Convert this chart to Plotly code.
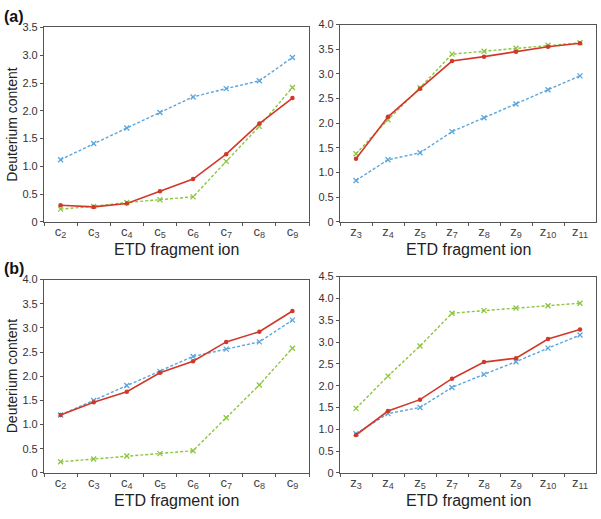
import plotly.graph_objects as go

c_ions = ["c<sub>2</sub>", "c<sub>3</sub>", "c<sub>4</sub>", "c<sub>5</sub>",
          "c<sub>6</sub>", "c<sub>7</sub>", "c<sub>8</sub>", "c<sub>9</sub>"]
z_ions = ["z<sub>3</sub>", "z<sub>4</sub>", "z<sub>5</sub>", "z<sub>7</sub>",
          "z<sub>8</sub>", "z<sub>9</sub>", "z<sub>10</sub>", "z<sub>11</sub>"]

# panel (a), c ions
a_c_red = [0.30, 0.27, 0.33, 0.55, 0.77, 1.22, 1.77, 2.23]
a_c_green = [0.23, 0.28, 0.35, 0.40, 0.45, 1.09, 1.72, 2.42]
a_c_blue = [1.12, 1.41, 1.69, 1.97, 2.25, 2.40, 2.54, 2.96]
# panel (a), z ions
a_z_red = [1.28, 2.13, 2.70, 3.26, 3.35, 3.45, 3.55, 3.62]
a_z_green = [1.38, 2.07, 2.72, 3.40, 3.46, 3.52, 3.58, 3.63]
a_z_blue = [0.84, 1.26, 1.40, 1.83, 2.11, 2.39, 2.68, 2.96]
# panel (b), c ions
b_c_red = [1.20, 1.46, 1.68, 2.07, 2.31, 2.71, 2.92, 3.35]
b_c_green = [0.23, 0.29, 0.35, 0.40, 0.46, 1.14, 1.82, 2.58]
b_c_blue = [1.20, 1.50, 1.81, 2.10, 2.41, 2.56, 2.71, 3.16]
# panel (b), z ions
b_z_red = [0.87, 1.42, 1.68, 2.16, 2.54, 2.63, 3.07, 3.29]
b_z_green = [1.48, 2.22, 2.91, 3.66, 3.72, 3.78, 3.83, 3.89]
b_z_blue = [0.90, 1.36, 1.50, 1.96, 2.26, 2.55, 2.86, 3.16]

y_max = [3.5, 4.0, 4.0, 4.5]

RED = "#d2382a"
GREEN = "#8cc63e"
BLUE = "#5aa5dc"
FONT = "Liberation Sans, Arial, sans-serif"

panels = [
    (c_ions, a_c_red, a_c_green, a_c_blue),
    (z_ions, a_z_red, a_z_green, a_z_blue),
    (c_ions, b_c_red, b_c_green, b_c_blue),
    (z_ions, b_z_red, b_z_green, b_z_blue),
]

W, H = 601, 519
# pixel boxes: (left, right, top, bottom)
boxes = [(44, 309, 22, 221), (340, 596, 19, 221),
         (44, 309, 280, 478), (340, 596, 277, 478)]

fig = go.Figure()
layout = dict(width=W, height=H, margin=dict(l=0, r=0, t=0, b=0),
              paper_bgcolor="white", plot_bgcolor="white", showlegend=False,
              font=dict(family=FONT, color="#333333"))

for i, (cats, red, green, blue) in enumerate(panels):
    n = i + 1
    xa = "x" if n == 1 else f"x{n}"
    ya = "y" if n == 1 else f"y{n}"
    for vals, color, dash, sym, wid, msz in [
        (green, GREEN, "3px,2px", "x-thin", 1.4, 5),
        (blue, BLUE, "3px,2px", "x-thin", 1.4, 5),
        (red, RED, "solid", "circle", 1.6, 4.5),
    ]:
        fig.add_trace(go.Scatter(
            x=cats, y=vals, xaxis=xa, yaxis=ya, mode="lines+markers",
            line=dict(color=color, width=wid, dash=dash),
            marker=dict(color=color, symbol=sym, size=msz,
                        line=dict(color=color, width=1.3 if sym == "x-thin" else 0)),
            cliponaxis=False,
        ))
    l, r, t, b = boxes[i]
    ym = y_max[i]
    tv = [k * 0.5 for k in range(int(ym / 0.5) + 1)]
    tt = ["0"] + [f"{v:.1f}" for v in tv[1:]]
    layout["xaxis" if n == 1 else f"xaxis{n}"] = dict(
        domain=[l / W, r / W], anchor=ya, type="category",
        categoryorder="array", categoryarray=cats,
        range=[-0.5, len(cats) - 0.5], tickson="boundaries",
        ticks="outside", ticklen=3, tickcolor="#555555",
        ticklabelstandoff=-3,
        showline=True, mirror=True, linecolor="#555555", linewidth=1.2,
        showgrid=False, zeroline=False,
        tickfont=dict(size=13, family=FONT, color="#444444"),
    )
    layout["yaxis" if n == 1 else f"yaxis{n}"] = dict(
        domain=[(H - b) / H, (H - t) / H], anchor=xa,
        range=[0, ym], tickvals=tv, ticktext=tt,
        ticks="outside", ticklen=3, tickcolor="#555555",
        showline=True, mirror=True, linecolor="#555555", linewidth=1.2,
        showgrid=False, zeroline=False,
        tickfont=dict(size=11, family=FONT, color="#333333"),
    )

fig.update_layout(**layout)

ann = []
# panel letters
ann.append(dict(text="<b>(a)</b>", x=2 / W, y=1 - 11 / H, xanchor="left", yanchor="middle"))
ann.append(dict(text="<b>(b)</b>", x=2 / W, y=1 - 269 / H, xanchor="left", yanchor="middle"))
for a in ann:
    a.update(xref="paper", yref="paper", showarrow=False,
             font=dict(size=16, family=FONT, color="#111111"))
# x titles
for (l, r, t, b) in boxes:
    ann.append(dict(text="ETD fragment ion", x=(l + r) / 2 / W, y=1 - (b + 28) / H,
                    xref="paper", yref="paper", showarrow=False,
                    xanchor="center", yanchor="middle",
                    font=dict(size=16, family=FONT, color="#222222")))
# y titles
for (l, r, t, b) in [boxes[0], boxes[2]]:
    ann.append(dict(text="Deuterium content", x=12 / W, y=1 - (t + b) / 2 / H,
                    xref="paper", yref="paper", showarrow=False, textangle=-90,
                    xanchor="center", yanchor="middle",
                    font=dict(size=14, family=FONT, color="#222222")))
fig.update_layout(annotations=ann)

fig.write_html("out.html", config={"displayModeBar": False},
               post_script="document.body.style.margin='0px';document.body.style.overflow='hidden';")
